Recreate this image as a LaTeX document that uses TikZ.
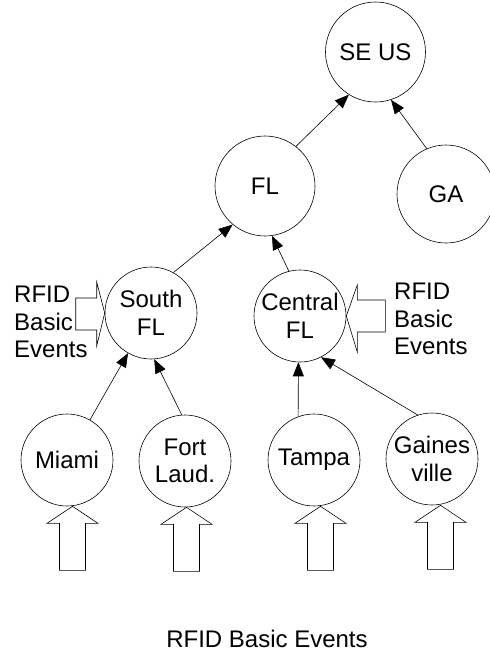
\documentclass[tikz,border=0pt]{standalone}
\usepackage{fontspec}
\setmainfont{Liberation Sans}
\usepackage{tikz}
\usetikzlibrary{arrows.meta}

\begin{document}
\begin{tikzpicture}[
        x=1pt, y=-1pt, % pixel-like grid, y running down
        font=\fontsize{24}{27.5}\selectfont,
        region/.style={draw, circle, line width=0.6pt, minimum size=92pt, inner sep=0pt, align=center},
        bigregion/.style={region, minimum size=100pt},
        link/.style={line width=0.6pt, -{Triangle[length=14pt, width=11pt]}},
        feed/.style={draw, line width=0.6pt},
        label/.style={inner sep=0pt, align=left},
        uparrow/.pic={\draw[feed] (0,0) -- (25.5,17) -- (13,17) -- (13,64) -- (-13,64) -- (-13,17) -- (-25.5,17) -- cycle;}
    ]
    \useasboundingbox (0,0) rectangle (490,654);

    % --- Nodes ---
    \node[bigregion] (seus) at (375.5,52) {SE US};
    \node[bigregion] (fl) at (265,186) {FL};
    \node[bigregion, minimum size=98pt] (ga) at (446,194) {GA};
    \node[region] (sfl) at (151,313) {South\\FL};
    \node[region] (cfl) at (300,316) {Central\\FL};
    \node[region] (miami) at (67,460) {Miami};
    \node[region] (ftl) at (185,461) {Fort\\Laud.};
    \node[region] (tampa) at (314,460) {Tampa};
    \node[region] (gville) at (432,459) {Gaines\\ville};

    % --- Hierarchy links ---
    \draw[link] (fl.52) -- (seus.238);
    \draw[link] (ga.113) -- (seus.288);
    \draw[link] (sfl.61) -- (fl.230);
    \draw[link] (cfl.104) -- (fl.278);
    \draw[link] (miami) -- (sfl);
    \draw[link] (ftl.94) -- (sfl.274);
    \draw[link] (tampa.110) -- (cfl.268);
    \draw[link] (gville.108) -- (cfl.297);

    % --- Event inputs ---
    \draw[feed] (sfl.west) -- ++(-8,-31) -- ++(0,16) -- ++(-21,0) -- ++(0,32) -- ++(21,0) -- ++(0,16) -- cycle;
    \draw[feed] (cfl.east) -- ++(11,-31) -- ++(0,15) -- ++(28,0) -- ++(0,32) -- ++(-28,0) -- ++(0,20) -- cycle;
    \pic at ([xshift=5.5pt]miami.south) {uparrow};
    \pic at ([xshift=1.5pt]ftl.south) {uparrow};
    \pic at ([xshift=6.5pt]tampa.south) {uparrow};
    \pic at ([xshift=8.5pt]gville.south) {uparrow};

    % --- Labels ---
    \node[label, anchor=north west] (leftfeed) at (14,286) {RFID\\Basic\\Events};
    \node[label, anchor=north west] (rightfeed) at (394,283) {RFID\\Basic\\Events};
    \node[label, anchor=base] (bottomfeed) at (267,647) {RFID Basic Events};

\end{tikzpicture}
\end{document}
